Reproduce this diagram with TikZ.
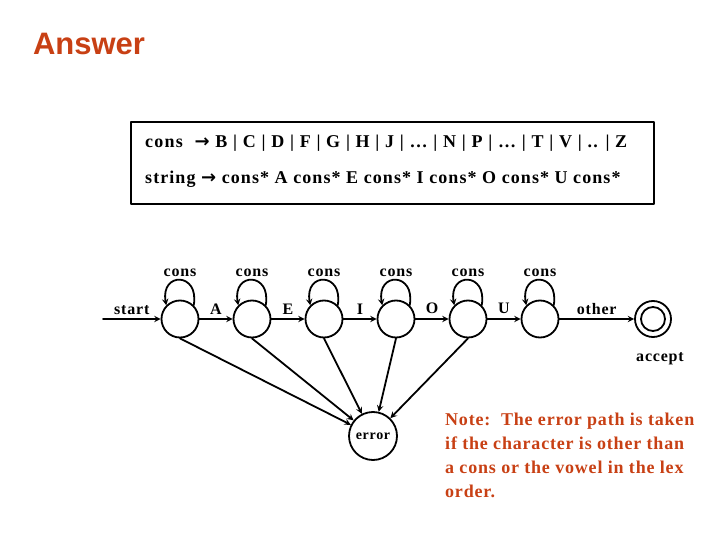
\documentclass[tikz,border=0pt]{standalone}
\usepackage{fontspec}
\setmainfont{Liberation Serif}
\newfontfamily\titlefont{Liberation Sans}
\newfontfamily\arrowfont{DejaVu Sans}
\usetikzlibrary{positioning}
\definecolor{answerred}{RGB}{200,64,20}
\begin{document}
\begin{tikzpicture}[x=1pt, y=-1pt, >=stealth, line cap=round, line join=round,
  state/.style={draw, circle, line width=1.8pt, minimum size=37pt, inner sep=0pt},
  lbl/.style={font=\bfseries\fontsize{16}{18}\selectfont\addfontfeature{LetterSpace=5}, inner sep=1pt},
  tr/.style={->, line width=1.8pt}]
  \useasboundingbox (0,0) rectangle (720,540);

  % Title
  \node[text=answerred, font=\titlefont\bfseries\fontsize{31}{36}\selectfont] (title) at (89,44) {Answer};

  % Grammar box
  \draw[line width=2pt] (131,122) rectangle (654,204);
  \node[anchor=west, inner sep=0pt, font=\bfseries\fontsize{18}{20}\selectfont\addfontfeature{LetterSpace=7}] (rule1) at (145,143)
    {cons\ \ {\arrowfont\bfseries →}\ B | C | D | F | G | H | J | … | N | P | … | T | V | .. | Z};
  \node[anchor=west, inner sep=0pt, font=\bfseries\fontsize{18}{20}\selectfont\addfontfeature{LetterSpace=6}] (rule2) at (145,179)
    {string {\arrowfont\bfseries →} cons* A cons* E cons* I cons* O cons* U cons*};

  % States
  \node[state] (s0) at (180,319) {};
  \node[state] (s1) at (252,319) {};
  \node[state] (s2) at (324,319) {};
  \node[state] (s3) at (396,319) {};
  \node[state] (s4) at (468,319) {};
  \node[state] (s5) at (540,319) {};
  \node[state, minimum size=36pt] (acc) at (653,319) {};
  \node[circle, draw, line width=1.8pt, minimum size=24pt, inner sep=0pt] (accin) at (acc) {};
  \node[state, minimum size=48pt, font=\bfseries\fontsize{14}{16}\selectfont\addfontfeature{LetterSpace=5}] (err) at (373,436) {error};
  \coordinate (in) at (103,319);

  % Transitions along the string
  \draw[tr] (in) -- (s0) node[lbl, midway, above=2pt] {start};
  \draw[tr] (s0) -- (s1) node[lbl, midway, above=3pt] {A};
  \draw[tr] (s1) -- (s2) node[lbl, midway, above=3pt] {E};
  \draw[tr] (s2) -- (s3) node[lbl, midway, above=3pt] {I};
  \draw[tr] (s3) -- (s4) node[lbl, midway, above=3pt] {O};
  \draw[tr] (s4) -- (s5) node[lbl, midway, above=3pt] {U};
  \draw[tr] (s5) -- (acc) node[lbl, midway, above=2pt] {other};
  \node[lbl, below=13pt of acc, xshift=7pt] (acclbl) {accept};

  % Self loops on cons
  \draw[tr] (s0.45) .. controls +(80:34pt) and +(100:34pt) .. (s0.135) node[lbl, midway, above=2pt] {cons};
  \draw[tr] (s1.45) .. controls +(80:34pt) and +(100:34pt) .. (s1.135) node[lbl, midway, above=2pt] {cons};
  \draw[tr] (s2.45) .. controls +(80:34pt) and +(100:34pt) .. (s2.135) node[lbl, midway, above=2pt] {cons};
  \draw[tr] (s3.45) .. controls +(80:34pt) and +(100:34pt) .. (s3.135) node[lbl, midway, above=2pt] {cons};
  \draw[tr] (s4.45) .. controls +(80:34pt) and +(100:34pt) .. (s4.135) node[lbl, midway, above=2pt] {cons};
  \draw[tr] (s5.45) .. controls +(80:34pt) and +(100:34pt) .. (s5.135) node[lbl, midway, above=2pt] {cons};

  % Error paths
  \draw[tr] (s0.south) -- (err);
  \draw[tr] (s1.south) -- (err);
  \draw[tr] (s2.south) -- (err);
  \draw[tr] (s3.south) -- (err);
  \draw[tr] (s4.south) -- (err);

  % Note
  \node[anchor=north west, inner sep=0pt, align=left, text=answerred,
    font=\bfseries\fontsize{18}{24}\selectfont\addfontfeature{LetterSpace=4.5}] (note) at (445,413)
    {Note:\ \ The error path is taken\\if the character is other than\\a cons or the vowel in the lex\\order.};
\end{tikzpicture}
\end{document}
